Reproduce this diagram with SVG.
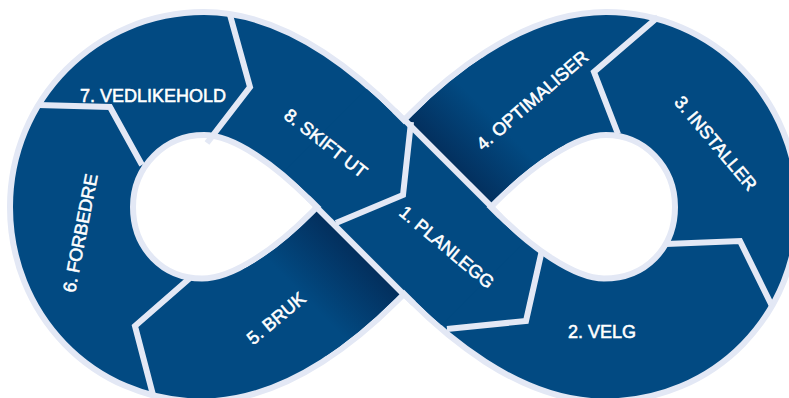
<svg xmlns="http://www.w3.org/2000/svg" width="789" height="398" viewBox="0 0 789 398">
<style>
.edge{fill:none;stroke:#e3e8f5;stroke-width:129;stroke-linejoin:round}
.band{fill:none;stroke:#024a82;stroke-width:117;stroke-linejoin:round}
.sep{fill:none;stroke:#e3e8f5;stroke-width:6;stroke-linejoin:miter;stroke-linecap:butt}
.lbl{fill:#ffffff;stroke:#ffffff;stroke-width:0.55;font-family:"Liberation Sans",Arial,sans-serif;font-size:18px;text-anchor:middle}
</style>
<defs>
<path id="loop" d="M404,207 L454,257 C485,288 545,340 604,340 C681,340 736.5,280.5 736.5,207 C736.5,133.3 679,73.5 606,73.5 C546,73.5 485,126 454,157 L404,207 L354,257 C323,288 263,340 202,340 C127,340 71.5,280.5 71.5,207 C71.5,133.3 130,73.5 204,73.5 C264,73.5 323,126 354,157 Z"/>
<linearGradient id="shadowB" gradientUnits="userSpaceOnUse" x1="291" y1="320" x2="517" y2="97">
<stop offset="0.08" stop-color="#024a82"/>
<stop offset="0.3" stop-color="#032f5d"/>
<stop offset="0.7" stop-color="#032f5d"/>
<stop offset="0.9" stop-color="#024a82"/>
</linearGradient>
<clipPath id="clipB"><rect x="244" y="137" width="320" height="140" transform="rotate(-45 404 207)"/></clipPath>
<clipPath id="clipAedge"><rect x="329" y="142" width="150" height="130" transform="rotate(45 404 207)"/></clipPath>
<clipPath id="clipAband"><rect x="294" y="148" width="220" height="118" transform="rotate(45 404 207)"/></clipPath>
</defs>
<rect width="789" height="398" fill="#ffffff"/>
<g id="infinity-band">
<use href="#loop" class="edge"/>
<use href="#loop" class="band"/>
<use href="#loop" fill="none" stroke="url(#shadowB)" stroke-width="117" clip-path="url(#clipB)"/>
<use href="#loop" class="edge" clip-path="url(#clipAedge)"/>
<use href="#loop" class="band" clip-path="url(#clipAband)"/>
</g>
<g id="connectors">
<polyline class="sep" points="411,122 403,195 336,223"/>
<polyline class="sep" points="542,250 526,321 447,329"/>
<polyline class="sep" points="666,244 740,241 772,306"/>
<polyline class="sep" points="658,17 594,72 618,134"/>
<polyline class="sep" points="190,278 135,326 153,395"/>
<polyline class="sep" points="38,105 110,107 142,165"/>
<polyline class="sep" points="230,15 250,87 207,143"/>
</g>
<g id="step-1"><text class="lbl" transform="translate(447,247) rotate(40)" y="6.5">1. PLANLEGG</text></g>
<g id="step-2"><text class="lbl" transform="translate(602,331)" y="6.5">2. VELG</text></g>
<g id="step-3"><text class="lbl" transform="translate(716,143) rotate(50)" y="6.5">3. INSTALLER</text></g>
<g id="step-4"><text class="lbl" transform="translate(532,100) rotate(-41)" y="6.5">4. OPTIMALISER</text></g>
<g id="step-5"><text class="lbl" transform="translate(276,318) rotate(-40)" y="6.5">5. BRUK</text></g>
<g id="step-6"><text class="lbl" transform="translate(80,233) rotate(-79)" y="6.5">6. FORBEDRE</text></g>
<g id="step-7"><text class="lbl" transform="translate(153,95)" y="6.5">7. VEDLIKEHOLD</text></g>
<g id="step-8"><text class="lbl" transform="translate(326,143) rotate(38)" y="6.5">8. SKIFT UT</text></g>
</svg>
